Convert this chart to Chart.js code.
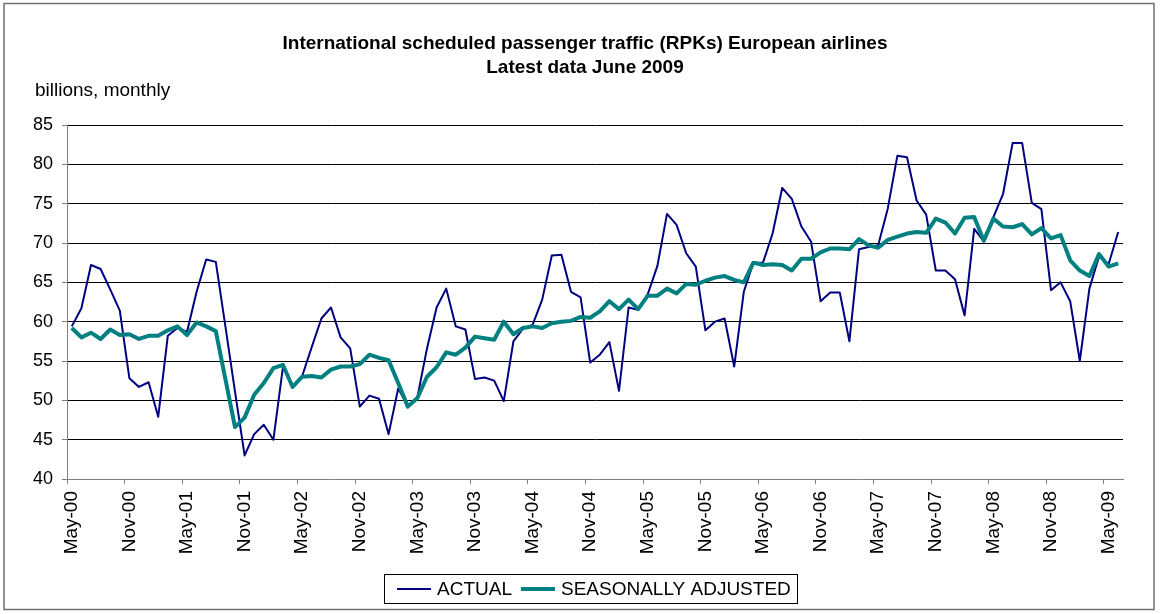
<!DOCTYPE html>
<html>
<head>
<meta charset="utf-8">
<script src="https://cdn.jsdelivr.net/npm/chart.js@4"></script>
<style>
  html, body { margin: 0; padding: 0; background: #fff; }
  #wrap { width: 1160px; height: 614px; }
</style>
</head>
<body>
<div id="wrap"><canvas id="rpkChart" width="1160" height="614"></canvas></div>
<script>
// monthly data May-00 .. Jun-09, billions RPK
const monthNames = ['Jan','Feb','Mar','Apr','May','Jun','Jul','Aug','Sep','Oct','Nov','Dec'];
const categories = [];
for (let y = 2000, m = 4; categories.length < 110; m++) {
    if (m > 11) { m = 0; y++; }
    categories.push(monthNames[m] + '-' + String(y % 100).padStart(2, '0'));
}

const tickLabels = ['May-00','Nov-00','May-01','Nov-01','May-02','Nov-02','May-03','Nov-03','May-04',
    'Nov-04','May-05','Nov-05','May-06','Nov-06','May-07','Nov-07','May-08','Nov-08','May-09'];

const actual = [
    59.4, 61.7, 67.2, 66.7, 64.1, 61.4, 52.8, 51.7, 52.3, 47.9, 58.2, 59.2,
    58.7, 63.8, 67.9, 67.6, 59.4, 51.1, 43.0, 45.7, 46.9, 45.0, 54.3, 51.7,
    53.1, 56.8, 60.4, 61.8, 58.0, 56.6, 49.2, 50.6, 50.2, 45.7, 51.5, 49.3,
    50.4, 56.6, 61.8, 64.2, 59.4, 59.0, 52.7, 52.9, 52.5, 49.9, 57.5, 59.1,
    59.6, 62.8, 68.4, 68.5, 63.8, 63.1, 54.8, 55.8, 57.4, 51.2, 61.8, 61.5,
    63.5, 67.1, 73.7, 72.3, 68.7, 67.0, 58.9, 60.0, 60.4, 54.3, 63.8, 67.5,
    67.5, 71.2, 77.0, 75.6, 72.1, 70.2, 62.6, 63.7, 63.7, 57.5, 69.2, 69.5,
    69.7, 74.4, 81.1, 80.9, 75.4, 73.6, 66.5, 66.5, 65.4, 60.8, 71.8, 70.2,
    73.3, 76.2, 82.7, 82.7, 75.1, 74.3, 64.0, 65.0, 62.6, 55.0, 64.2, 68.3,
    67.3, 71.4
];

const seasAdj = [
    59.2, 58.0, 58.6, 57.8, 59.0, 58.3, 58.4, 57.8, 58.2, 58.2, 58.9, 59.4,
    58.3, 59.9, 59.4, 58.8, 52.7, 46.6, 47.8, 50.7, 52.2, 54.1, 54.5, 51.7,
    53.0, 53.1, 52.9, 53.9, 54.3, 54.3, 54.6, 55.8, 55.4, 55.1, 52.2, 49.2,
    50.3, 53.0, 54.2, 56.1, 55.8, 56.7, 58.1, 57.9, 57.7, 60.0, 58.4, 59.2,
    59.4, 59.2, 59.8, 60.0, 60.1, 60.6, 60.5, 61.3, 62.6, 61.6, 62.8, 61.6,
    63.3, 63.3, 64.2, 63.6, 64.8, 64.7, 65.2, 65.6, 65.8, 65.3, 65.0, 67.5,
    67.2, 67.3, 67.2, 66.5, 68.0, 68.0, 68.8, 69.3, 69.3, 69.2, 70.5, 69.7,
    69.4, 70.4, 70.8, 71.2, 71.4, 71.3, 73.1, 72.6, 71.2, 73.2, 73.3, 70.3,
    73.1, 72.1, 72.0, 72.4, 71.1, 71.9, 70.6, 71.0, 67.8, 66.5, 65.8, 68.6,
    67.0, 67.4
];

const FONT = '"Liberation Sans", Arial, sans-serif';

// titles, frame and legend drawn by hand to match the excel look
const decorations = {
    id: 'decorations',
    afterDraw(chart) {
        const c = chart.ctx;
        c.save();
        c.strokeStyle = '#707070';
        c.lineWidth = 1.5;
        c.strokeRect(4, 3.5, 1150, 606);

        c.fillStyle = '#000';
        c.textAlign = 'center';
        c.textBaseline = 'alphabetic';
        c.font = 'bold 19px ' + FONT;
        c.fillText('International scheduled passenger traffic (RPKs) European airlines', 585, 49);
        c.fillText('Latest data June 2009', 585, 73);

        c.textAlign = 'left';
        c.font = '19px ' + FONT;
        c.fillText('billions, monthly', 35, 96);

        // legend
        const ds = chart.data.datasets;
        const legendItems = [ds[1], ds[0]]; // ACTUAL first
        c.strokeStyle = '#000';
        c.lineWidth = 1;
        c.strokeRect(384.5, 574.5, 413, 29);
        let x = 397;
        const ly = 589;
        c.font = '19px ' + FONT;
        c.textBaseline = 'middle';
        legendItems.forEach((d, i) => {
            c.strokeStyle = d.borderColor;
            c.lineWidth = d.borderWidth;
            c.beginPath();
            c.moveTo(x, ly);
            c.lineTo(x + 34, ly);
            c.stroke();
            c.fillStyle = '#000';
            c.fillText(d.label, x + 40, ly + 1);
            x += 40 + c.measureText(d.label).width + 9;
        });
        c.restore();
    }
};

const ctx = document.getElementById('rpkChart').getContext('2d');

new Chart(ctx, {
    type: 'line',
    data: {
        labels: categories,
        datasets: [
            {
                label: 'SEASONALLY ADJUSTED',
                data: seasAdj,
                borderColor: '#008080',
                borderWidth: 4,
                pointRadius: 0,
                tension: 0,
                borderJoinStyle: 'round'
            },
            {
                label: 'ACTUAL',
                data: actual,
                borderColor: '#000080',
                borderWidth: 2,
                pointRadius: 0,
                tension: 0,
                borderJoinStyle: 'round'
            }
        ]
    },
    options: {
        responsive: false,
        animation: false,
        devicePixelRatio: 1,
        layout: { padding: { top: 125, right: 37, left: 0, bottom: 0 } },
        plugins: {
            legend: { display: false },
            title: { display: false },
            tooltip: { enabled: false }
        },
        scales: {
            x: {
                type: 'category',
                offset: true,
                afterFit: (scale) => { scale.height = 135; },
                border: { display: true, color: '#808080', width: 1 },
                grid: {
                    offset: true,
                    drawOnChartArea: false,
                    tickLength: 5,
                    color: (c) => (c.index % 6 === 0 && c.index < 110) ? '#808080' : 'rgba(0,0,0,0)'
                },
                ticks: {
                    autoSkip: false,
                    minRotation: 90,
                    maxRotation: 90,
                    padding: 7,
                    color: '#000',
                    font: { family: FONT, size: 19 },
                    callback: function (value) {
                        const lab = this.getLabelForValue(value);
                        return tickLabels.includes(lab) ? lab : '';
                    }
                }
            },
            y: {
                min: 40,
                max: 85,
                afterFit: (scale) => { scale.width = 67; },
                border: { display: true, color: '#808080', width: 1 },
                grid: {
                    color: (c) => c.tick && c.tick.value === 40 ? 'rgba(0,0,0,0)' : '#000',
                    tickColor: '#808080',
                    tickLength: 5,
                    lineWidth: 1
                },
                ticks: {
                    stepSize: 5,
                    padding: 9,
                    color: '#000',
                    font: { family: FONT, size: 18 }
                }
            }
        }
    },
    plugins: [decorations]
});
</script>
</body>
</html>
